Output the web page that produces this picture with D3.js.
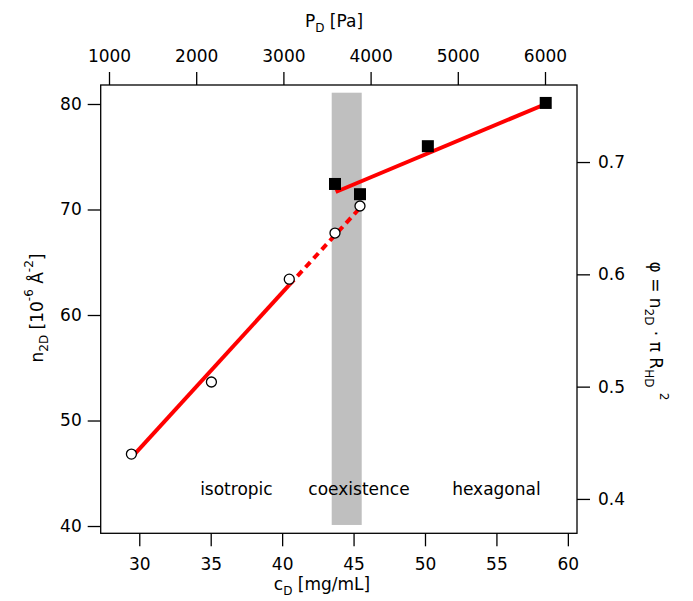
<!DOCTYPE html>
<html>
<head>
<meta charset="utf-8">
<script src="https://cdn.jsdelivr.net/npm/d3@7/dist/d3.min.js"></script>
<style>
	body{margin:0;background:#fff;}
	text{font-family:"DejaVu Sans",Verdana,sans-serif;fill:#000;}
	.axis path,.axis line{stroke:#000;stroke-width:1.3;}
	.axis text{font-size:17px;}
</style>
</head>
<body>
<div id="chart"></div>
<script>

// isotropic phase (open circles) [c_D mg/mL, n_2D]
var ISO_C = [29.45, 35.05, 40.5, 43.7, 45.45];
var ISO_N = [46.82, 53.65, 63.4, 67.77, 70.33];

// hexagonal phase (filled squares)
var HEX_C = [43.7, 45.45, 50.2, 58.45];
var HEX_N = [72.42, 71.45, 76.0, 80.1];

// fit lines : solid part, dashed extension, hexagonal fit
var FIT_ISO_C = [29.5, 40.5];
var FIT_ISO_N = [46.55, 62.85];
var FIT_DASH_C = [40.5, 45.35];
var FIT_DASH_N = [62.85, 70.0];
var FIT_HEX_C = [43.75, 58.45];
var FIT_HEX_N = [71.66, 80.0];

// coexistence band
var BAND_C = [43.47, 45.57];
var BAND_N = [40.1, 81.07];

// ticks
var TICKS_C = [30, 35, 40, 45, 50, 55, 60];
var TICKS_N = [40, 50, 60, 70, 80];
var TICKS_P = [1000, 2000, 3000, 4000, 5000, 6000];
var TICKS_PHI = [0.4, 0.5, 0.6, 0.7];

// phase labels
var PHASE_TEXT = ["isotropic", "coexistence", "hexagonal"];
var PHASE_C = [36.8, 45.38, 55.0];
var PHASE_N = 42.94;

var WIDTH = 693, HEIGHT = 601;
var LEFT = 100.7, RIGHT = 577, TOP = 85, BOTTOM = 533.3;
var TICK = 13;

var svg = d3.select("#chart").append("svg")
	.attr("width", WIDTH)
	.attr("height", HEIGHT);

var x = d3.scaleLinear().domain([27.30, 60.64]).range([LEFT, RIGHT]);
var y = d3.scaleLinear().domain([39.31, 81.8]).range([BOTTOM, TOP]);
var xTop = d3.scaleLinear().domain([904.8, 6367]).range([LEFT, RIGHT]);
var yRight = d3.scaleLinear().domain([0.3694, 0.7686]).range([BOTTOM, TOP]);

// ---------------- coexistence band --------------------
svg.append("rect")
	.attr("x", x(BAND_C[0]))
	.attr("y", y(BAND_N[1]))
	.attr("width", x(BAND_C[1]) - x(BAND_C[0]))
	.attr("height", y(BAND_N[0]) - y(BAND_N[1]))
	.style("fill", "#bfbfbf");

// ---------------- frame + axes --------------------
svg.append("rect")
	.attr("x", LEFT).attr("y", TOP)
	.attr("width", RIGHT - LEFT).attr("height", BOTTOM - TOP)
	.style("fill", "none").style("stroke", "#000").style("stroke-width", 1.3);

svg.append("g").attr("class", "axis")
	.attr("transform", "translate(0," + BOTTOM + ")")
	.call(d3.axisBottom(x).tickValues(TICKS_C).tickSize(TICK).tickPadding(12).tickSizeOuter(0));

svg.append("g").attr("class", "axis")
	.attr("transform", "translate(0," + TOP + ")")
	.call(d3.axisTop(xTop).tickValues(TICKS_P).tickFormat(d3.format("d")).tickSize(TICK).tickPadding(10).tickSizeOuter(0));

svg.append("g").attr("class", "axis")
	.attr("transform", "translate(" + LEFT + ",0)")
	.call(d3.axisLeft(y).tickValues(TICKS_N).tickSize(TICK).tickPadding(6).tickSizeOuter(0));

svg.append("g").attr("class", "axis")
	.attr("transform", "translate(" + RIGHT + ",0)")
	.call(d3.axisRight(yRight).tickValues(TICKS_PHI).tickFormat(d3.format(".1f")).tickSize(TICK).tickPadding(8).tickSizeOuter(0));

svg.selectAll(".axis .domain").remove();

// ---------------- fit lines --------------------
function _drawFit(cs, ns, dash){
	var _line = d3.line().x(function(d){ return x(d[0]); }).y(function(d){ return y(d[1]); });
	svg.append("path")
		.attr("d", _line(d3.zip(cs, ns)))
		.style("fill", "none")
		.style("stroke", "#ff0000")
		.style("stroke-width", 4)
		.style("stroke-dasharray", dash);
}
_drawFit(FIT_ISO_C, FIT_ISO_N, null);
_drawFit(FIT_DASH_C, FIT_DASH_N, "7,5");
_drawFit(FIT_HEX_C, FIT_HEX_N, null);

// ---------------- markers --------------------
svg.append("g").selectAll("circle")
	.data(d3.zip(ISO_C, ISO_N))
	.enter().append("circle")
	.attr("cx", function(d){ return x(d[0]); })
	.attr("cy", function(d){ return y(d[1]); })
	.attr("r", 5)
	.style("fill", "#fff")
	.style("stroke", "#000")
	.style("stroke-width", 1.3);

var SQ = 12;
svg.append("g").selectAll("rect")
	.data(d3.zip(HEX_C, HEX_N))
	.enter().append("rect")
	.attr("x", function(d){ return x(d[0]) - SQ/2; })
	.attr("y", function(d){ return y(d[1]) - SQ/2; })
	.attr("width", SQ).attr("height", SQ)
	.style("fill", "#000");

// ---------------- phase labels --------------------
svg.append("g").selectAll("text")
	.data(PHASE_TEXT)
	.enter().append("text")
	.text(function(d){ return d; })
	.attr("x", function(d, i){ return x(PHASE_C[i]); })
	.attr("y", y(PHASE_N))
	.style("text-anchor", "middle")
	.style("font-size", "17px");

// ---------------- axis titles --------------------
// helper: appends [text, mode] parts, mode "sub" / "sup" / null
function _richText(el, parts){
	var _shift = 0;
	parts.forEach(function(p){
		var _target = p[1] == "sub" ? 5 : (p[1] == "sup" ? -10 : 0);
		el.append("tspan")
			.text(p[0])
			.attr("dy", _target - _shift)
			.style("font-size", p[1] ? "12px" : "17px");
		_shift = _target;
	});
}

var tBottom = svg.append("text")
	.attr("x", 322).attr("y", 590)
	.style("text-anchor", "middle");
_richText(tBottom, [["c", null], ["D", "sub"], [" [mg/mL]", null]]);

var tTop = svg.append("text")
	.attr("x", 334).attr("y", 27)
	.style("text-anchor", "middle");
_richText(tTop, [["P", null], ["D", "sub"], [" [Pa]", null]]);

var tLeft = svg.append("text")
	.attr("transform", "translate(43,308) rotate(-90)")
	.style("text-anchor", "middle");
_richText(tLeft, [["n", null], ["2D", "sub"], [" [10", null], ["-6", "sup"], [" Å", null], ["-2", "sup"], ["]", null]]);

var tRight = svg.append("text")
	.attr("transform", "translate(650,331) rotate(90)")
	.style("text-anchor", "middle");
_richText(tRight, [["φ = n", null], ["2D", "sub"], [" · π R", null], ["HD", "sub"], [" ", null], ["2", "sup"]]);

</script>
</body>
</html>
